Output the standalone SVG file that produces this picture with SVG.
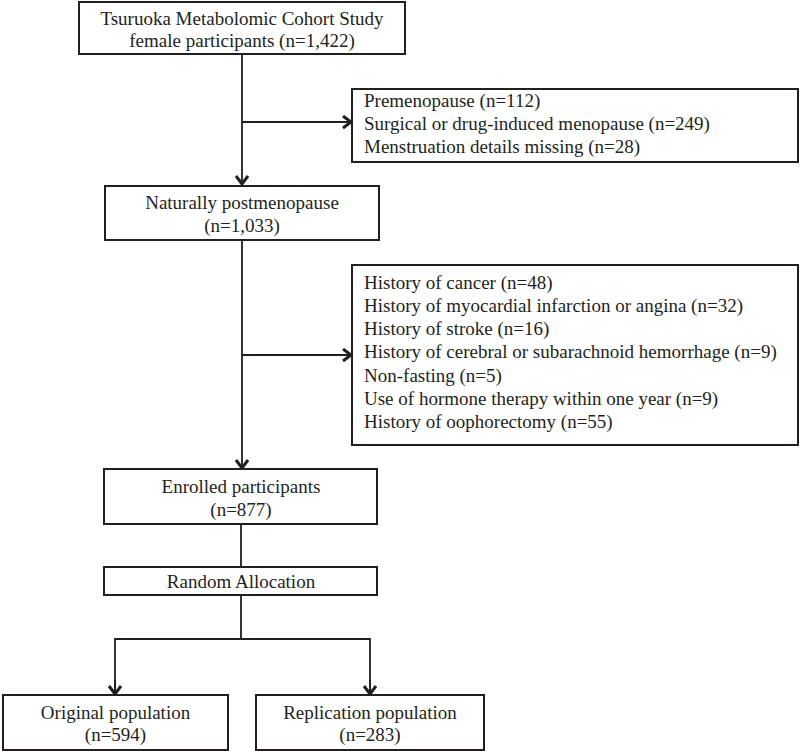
<svg xmlns="http://www.w3.org/2000/svg" width="800" height="751" viewBox="0 0 800 751">
<defs>
<style>
.box{fill:#fff;stroke:#231f20;stroke-width:2}
.t{font-family:"Liberation Serif","Times New Roman",serif;font-size:19px;fill:#231f20}
.c{text-anchor:middle}
.ln{fill:none;stroke:#231f20;stroke-width:1.8}
</style>
<marker id="arr" markerUnits="userSpaceOnUse" markerWidth="16" markerHeight="16" refX="10" refY="7" orient="auto">
<path d="M2,1 L10,7 L2,13" fill="none" stroke="#231f20" stroke-width="3"/>
</marker>
</defs>
<rect width="800" height="751" fill="#fff"/>
<g id="connectors">
<line class="ln" x1="242" y1="54" x2="242" y2="184" marker-end="url(#arr)"/>
<line class="ln" x1="242" y1="122" x2="351" y2="122" marker-end="url(#arr)"/>
<line class="ln" x1="242" y1="240" x2="242" y2="468" marker-end="url(#arr)"/>
<line class="ln" x1="242" y1="355" x2="351" y2="355" marker-end="url(#arr)"/>
<line class="ln" x1="241" y1="524" x2="241" y2="567"/>
<line class="ln" x1="241" y1="595" x2="241" y2="639"/>
<polyline class="ln" points="115,694 115,639 370,639 370,694"/>
<line class="ln" x1="115" y1="680" x2="115" y2="694" marker-end="url(#arr)"/>
<line class="ln" x1="370" y1="680" x2="370" y2="694" marker-end="url(#arr)"/>
</g>
<g id="n1">
<rect class="box" x="79" y="2" width="326" height="52"/>
<text class="t c" x="242" y="25">Tsuruoka Metabolomic Cohort Study</text>
<text class="t c" x="242" y="47">female participants (n=1,422)</text>
</g>
<g id="n2">
<rect class="box" x="352" y="89" width="446" height="73"/>
<text class="t" x="364" y="107">Premenopause  (n=112)</text>
<text class="t" x="364" y="130">Surgical or drug-induced menopause (n=249)</text>
<text class="t" x="364" y="153">Menstruation details missing (n=28)</text>
</g>
<g id="n3">
<rect class="box" x="105" y="186" width="274" height="54"/>
<text class="t c" x="242" y="209">Naturally postmenopause</text>
<text class="t c" x="242" y="232">(n=1,033)</text>
</g>
<g id="n4">
<rect class="box" x="352" y="265" width="446" height="180"/>
<text class="t" x="364" y="289">History of cancer (n=48)</text>
<text class="t" x="364" y="312">History of myocardial infarction or angina (n=32)</text>
<text class="t" x="364" y="335">History of stroke (n=16)</text>
<text class="t" x="364" y="358">History of cerebral or subarachnoid hemorrhage (n=9)</text>
<text class="t" x="364" y="382">Non-fasting (n=5)</text>
<text class="t" x="364" y="405">Use of hormone therapy within one year (n=9)</text>
<text class="t" x="364" y="428">History of oophorectomy (n=55)</text>
</g>
<g id="n5">
<rect class="box" x="104" y="469" width="273" height="55"/>
<text class="t c" x="241" y="493">Enrolled participants</text>
<text class="t c" x="241" y="516">(n=877)</text>
</g>
<g id="n6">
<rect class="box" x="104" y="567" width="273" height="28"/>
<text class="t c" x="241" y="588">Random Allocation</text>
</g>
<g id="n7">
<rect class="box" x="3" y="695" width="225" height="55"/>
<text class="t c" x="115.5" y="719">Original population</text>
<text class="t c" x="115.5" y="741">(n=594)</text>
</g>
<g id="n8">
<rect class="box" x="256" y="695" width="228" height="55"/>
<text class="t c" x="370" y="719">Replication population</text>
<text class="t c" x="370" y="741">(n=283)</text>
</g>
</svg>
